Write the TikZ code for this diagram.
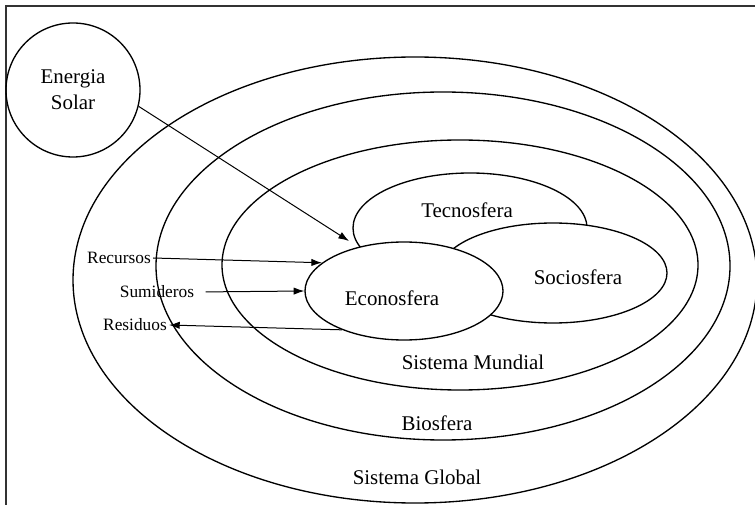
\documentclass[tikz,border=0pt]{standalone}
\usepackage{fontspec}
\setmainfont{Liberation Serif}
\usetikzlibrary{shapes.geometric,arrows.meta}

\begin{document}
\begin{tikzpicture}[x=0.75pt,y=0.75pt,yscale=-1,xscale=1,
	sphere/.style={ellipse,draw,line width=1pt,inner sep=0pt},
	flow/.style={line width=0.75pt,-{Latex[length=8pt,width=5.5pt]}},
	bigtxt/.style={font=\fontsize{15.7}{19.5}\selectfont,inner sep=1pt},
	smalltxt/.style={font=\fontsize{13}{15}\selectfont,inner sep=1.5pt}]
		\useasboundingbox (0,0) rectangle (755,505);
		
		%Straight Lines (frame)
		\draw [black!80,line width=0.8pt]  (6,505) -- (6,6) -- (755,6) ;
		
		%Shape: Ellipse
		\node [sphere,minimum width=513pt,minimum height=334.5pt] (global) at (415,280) {};
		%Shape: Ellipse
		\node [sphere,minimum width=430.5pt,minimum height=261pt] (bio) at (443,266) {};
		%Shape: Ellipse
		\node [sphere,minimum width=357pt,minimum height=187.5pt] (mundial) at (460,265) {};
		%Shape: Ellipse
		\node [sphere,minimum width=175.5pt,minimum height=82.5pt] (tecno) at (470,228) {};
		%Shape: Ellipse
		\node [sphere,fill=white,minimum width=171pt,minimum height=75pt] (socio) at (553,273) {};
		%Shape: Ellipse
		\node [sphere,fill=white,minimum width=148.5pt,minimum height=73.5pt] (econo) at (404,291) {};
		%Shape: Circle
		\node [circle,draw,line width=1pt,minimum size=100.5pt,align=center,bigtxt] (solar) at (73,90) {Energia\\Solar};
		
		% Text Node
		\node [bigtxt] (tecnotxt) at (467,210) {Tecnosfera};
		% Text Node
		\node [bigtxt] (sociotxt) at (578,277) {Sociosfera};
		% Text Node
		\node [bigtxt] (econotxt) at (392,298) {Econosfera};
		% Text Node
		\node [bigtxt] (mundialtxt) at (473,362) {Sistema Mundial};
		% Text Node
		\node [bigtxt] (biotxt) at (437,423) {Biosfera};
		% Text Node
		\node [bigtxt] (globaltxt) at (417,477) {Sistema Global};
		% Text Node
		\node [smalltxt] (recursos) at (119,258) {Recursos};
		% Text Node
		\node [smalltxt] (sumideros) at (157,292) {Sumideros};
		% Text Node
		\node [smalltxt] (residuos) at (135,325) {Residuos};
		
		%Straight Lines
		\coordinate (solartip) at (349,241);
		\draw [flow]  (solar.-14) -- (solartip) ;
		%Straight Lines
		\draw [flow]  (recursos.east) -- (econo.161) ;
		%Straight Lines
		\draw [flow,shorten <=7pt]  (sumideros.east) -- (econo.west) ;
		%Straight Lines
		\draw [flow]  (econo.212) -- (residuos.east) ;
		
\end{tikzpicture}
\end{document}
